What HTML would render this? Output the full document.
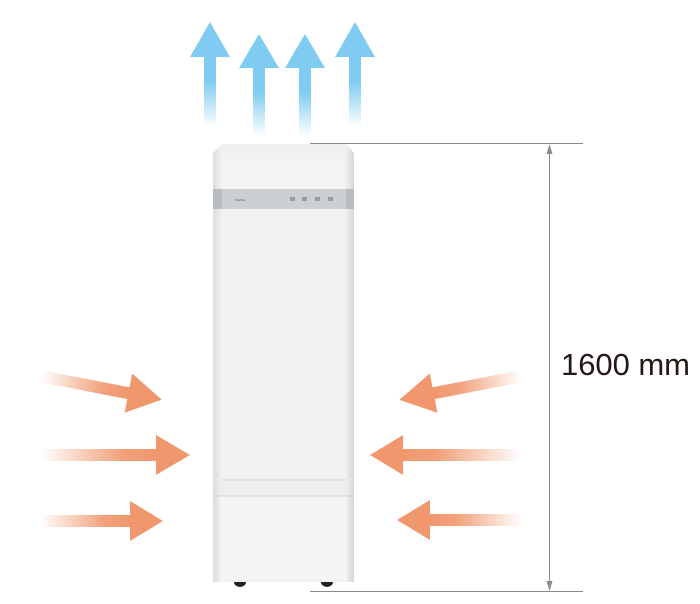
<!DOCTYPE html>
<html><head><meta charset="utf-8"><style>
html,body{margin:0;padding:0;background:#fff;}
svg{display:block;}
</style></head><body>
<svg width="700" height="604" viewBox="0 0 700 604" xmlns="http://www.w3.org/2000/svg">
<defs>
<linearGradient id="bu" x1="0" y1="0" x2="0" y2="1">
<stop offset="0" stop-color="#7fcbf2"/><stop offset="0.35" stop-color="#7fcbf2"/><stop offset="1" stop-color="#7fcbf2" stop-opacity="0"/>
</linearGradient>
<linearGradient id="or" x1="0" y1="0" x2="1" y2="0">
<stop offset="0" stop-color="#f0976d" stop-opacity="0"/><stop offset="0.7" stop-color="#f0976d" stop-opacity="0.9"/><stop offset="1" stop-color="#f0976d"/>
</linearGradient>
<linearGradient id="body" x1="0" y1="0" x2="1" y2="0">
<stop offset="0" stop-color="#dcdcdc"/><stop offset="0.06" stop-color="#f0f0f0"/><stop offset="0.94" stop-color="#f0f0f0"/><stop offset="1" stop-color="#d6d6d6"/>
</linearGradient>
</defs>

<g fill="#7fcbf2">
<polygon points="210,22 230,57 190,57"/><rect x="204" y="57" width="12" height="70" fill="url(#bu)"/>
<polygon points="259,34 279,68 239,68"/><rect x="253" y="68" width="12" height="68" fill="url(#bu)"/>
<polygon points="305,34 325,68 285,68"/><rect x="299" y="68" width="12" height="68" fill="url(#bu)"/>
<polygon points="355,22 375,57 335,57"/><rect x="349" y="57" width="12" height="70" fill="url(#bu)"/>
</g>

<polygon points="222,144 346,144 354,153 354,582 213,582 213,153" fill="url(#body)"/>
<rect x="222" y="153" width="124" height="36" fill="#f3f3f3"/>
<rect x="213" y="189" width="141" height="20" fill="#cdd0d3"/>
<rect x="213" y="189" width="9" height="20" fill="#b9bcbf"/>
<rect x="346" y="189" width="8" height="20" fill="#b9bcbf"/>
<rect x="222" y="209" width="124" height="270" fill="#f2f2f2"/>
<line x1="222" y1="480" x2="346" y2="480" stroke="#cfcfcf" stroke-width="1"/>
<rect x="222" y="481" width="124" height="14" fill="#eeeeee"/>
<rect x="220" y="496" width="127" height="84" fill="#f4f4f4"/>
<line x1="213" y1="496" x2="354" y2="496" stroke="#d0d0d0"/>
<text x="235" y="201" font-family="Liberation Sans,sans-serif" font-size="3" fill="#555">Toshiba</text>
<g fill="#9a9da0"><rect x="290" y="197" width="5" height="4"/><rect x="302" y="197" width="5" height="4"/><rect x="315" y="197" width="5" height="4"/><rect x="328" y="197" width="5" height="4"/></g>
<path d="M234,582 h12 a6,5 0 0 1 -12,0 z" fill="#222"/>
<path d="M321,582 h12 a6,5 0 0 1 -12,0 z" fill="#222"/>

<g stroke="#8a8a8a" stroke-width="1" fill="none">
<line x1="310" y1="143.5" x2="583" y2="143.5"/>
<line x1="310" y1="591.5" x2="583" y2="591.5"/>
<line x1="549.5" y1="146" x2="549.5" y2="589"/>
</g>
<polygon points="549.5,144 546.5,154 552.5,154" fill="#8a8a8a"/>
<polygon points="549.5,591 546.5,581 552.5,581" fill="#8a8a8a"/>
<text x="561" y="375" font-family="Liberation Sans,sans-serif" font-size="31" textLength="129" fill="#231815">1600 mm</text>

<g transform="translate(40,376) rotate(11)">
<rect x="0" y="-6" width="92" height="12" fill="url(#or)"/><polygon points="90,-20 124,0 90,20" fill="#f0976d"/>
</g>
<rect x="40" y="449" width="118" height="12" fill="url(#or)"/><polygon points="156,435 190,455 156,475" fill="#f0976d"/>
<rect x="40" y="515" width="92" height="12" fill="url(#or)"/><polygon points="130,501 163,521 130,541" fill="#f0976d"/>

<g transform="translate(522,376) rotate(-11) scale(-1,1)">
<rect x="0" y="-6" width="92" height="12" fill="url(#or)"/><polygon points="90,-20 125,0 90,20" fill="#f0976d"/>
</g>
<g transform="translate(522,0) scale(-1,1)">
<rect x="0" y="449" width="121" height="12" fill="url(#or)"/><polygon points="119,435 152,455 119,475" fill="#f0976d"/>
<rect x="0" y="514" width="94" height="12" fill="url(#or)"/><polygon points="92,500 125,520 92,540" fill="#f0976d"/>
</g>
</svg>
</body></html>
